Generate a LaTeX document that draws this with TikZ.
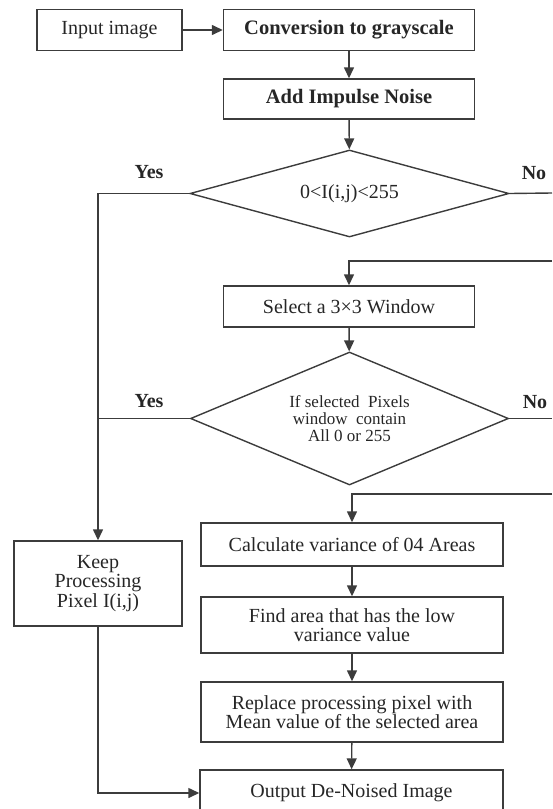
\documentclass[tikz,border=0pt]{standalone}
\usepackage{fontspec}
\setmainfont{Liberation Serif}
\usetikzlibrary{shapes.geometric,arrows.meta}

\definecolor{LineGray}{HTML}{3C3C3C}

\begin{document}
\begin{tikzpicture}[x=1pt, y=-1pt,
  box/.style={rectangle, draw=LineGray, line width=1.4pt, inner sep=0pt, align=center,
    text=black!85, font=\fontsize{20}{19.5}\selectfont},
  test/.style={diamond, draw=LineGray, line width=1.4pt, inner sep=0pt, align=center,
    text=black!85},
  lab/.style={text=black!85, font=\bfseries\fontsize{20}{19.5}\selectfont},
  lin/.style={draw=LineGray, line width=1.4pt},
  arr/.style={lin, -{Triangle[length=11pt,width=10pt]}}]

 \useasboundingbox (0,0) rectangle (552,809);

 %%%%%%%%%% Free ends at the right border %%%%%%%%%%
 \coordinate (r1) at (552,193);
 \coordinate (l1) at (552,261);
 \coordinate (r2) at (552,418.5);
 \coordinate (l2) at (552,494);

 % Top row
 \node[box, minimum width=145pt, minimum height=41.5pt] (input) at (109.5,30) {Input image};
 \node[box, minimum width=251pt, minimum height=41.5pt, font=\bfseries\fontsize{20.5}{19.5}\selectfont] (conv) at (349,30) {Conversion to grayscale};
 \node[box, minimum width=251pt, minimum height=40pt, font=\bfseries\fontsize{20.5}{19.5}\selectfont] (noise) at (349,99) {Add Impulse Noise};

 % First test
 \node[test, minimum width=319pt, minimum height=87pt, shape aspect=3.6, font=\fontsize{20}{19.5}\selectfont] (test1) at (349.5,193.5) {0<I(i,j)<255};

 % Window
 \node[box, minimum width=251pt, minimum height=41pt] (window) at (349,306.5) {Select a 3×3 Window};

 % Second test
 \node[test, minimum width=318pt, minimum height=133pt, shape aspect=2.4, font=\fontsize{17}{17}\selectfont] (test2) at (349.5,418.5) {If selected~~Pixels\\window~~contain\\All 0 or 255};

 % Left branch
 \node[box, minimum width=168pt, minimum height=85pt] (keep) at (98,583.5) {Keep\\Processing\\Pixel I(i,j)};

 % Lower column
 \node[box, minimum width=302pt, minimum height=43pt] (calc) at (352,544.5) {Calculate variance of 04 Areas};
 \node[box, minimum width=302pt, minimum height=56pt] (find) at (352,625) {Find area that has the low\\variance value};
 \node[box, minimum width=302pt, minimum height=60pt] (repl) at (352,712) {Replace processing pixel with\\Mean value of the selected area};
 \node[box, minimum width=303pt, minimum height=46pt] (out) at (351.5,793) {Output De-Noised Image};

 % Yes / No labels
 \node[lab] (yes1) at (149,172) {Yes};
 \node[lab] (no1) at (534,173) {No};
 \node[lab] (yes2) at (149,401) {Yes};
 \node[lab] (no2) at (535,402) {No};

 % Arrows of the main column
 \draw[arr] (input) -- (conv);
 \draw[arr] (conv) -- (noise);
 \draw[arr] (noise) -- (test1);
 \draw[arr] (window) -- (test2);
 \draw[arr] (calc) -- (find);
 \draw[arr] (find) -- (repl);
 \draw[arr] (repl) -- (out);

 % No branches and loops
 \draw[lin] (test1.east) -- (r1);
 \draw[arr] (l1) -| (window.north);
 \draw[lin] (test2.east) -- (r2);
 \draw[arr] (l2) -| (calc.north);

 % Yes branches
 \draw[arr] (test1.west) -| (keep.north);
 \draw[lin] (test2.west) -- (test2.west -| keep.north);
 \draw[arr] (keep.south) |- (out.west);

\end{tikzpicture}
\end{document}
